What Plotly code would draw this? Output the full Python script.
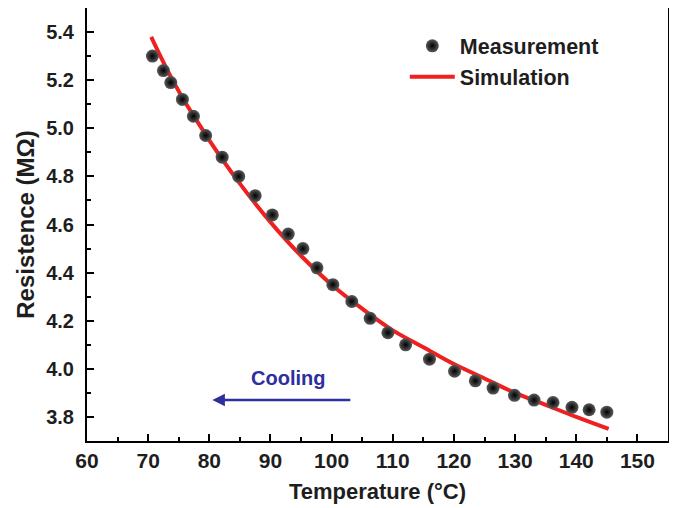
import plotly.graph_objects as go

# Measurement data (temperature in °C, resistance in MΩ)
meas_T = [70.7, 72.5, 73.7, 75.6, 77.4, 79.4, 82.1, 84.8, 87.5, 90.3, 92.9, 95.3,
          97.6, 100.2, 103.3, 106.3, 109.2, 112.1, 116.0, 120.1, 123.5, 126.4,
          129.9, 133.1, 136.2, 139.3, 142.1, 145.0]
meas_R = [5.30, 5.24, 5.19, 5.12, 5.05, 4.97, 4.88, 4.80, 4.72, 4.64, 4.56, 4.50,
          4.42, 4.35, 4.28, 4.21, 4.15, 4.10, 4.04, 3.99, 3.95, 3.92,
          3.89, 3.87, 3.86, 3.84, 3.83, 3.82]

# Simulation curve
sim_T = [70.5, 72, 74, 76, 78, 80, 85, 90, 95, 100, 105, 110, 115, 120, 125, 130, 135, 140, 145.3]
sim_R = [5.38, 5.30, 5.20, 5.11, 5.03, 4.95, 4.77, 4.61, 4.47, 4.35, 4.25, 4.16, 4.09,
         4.02, 3.96, 3.90, 3.85, 3.80, 3.75]

x_ticks = [60, 70, 80, 90, 100, 110, 120, 130, 140, 150]
y_ticks = [3.8, 4.0, 4.2, 4.4, 4.6, 4.8, 5.0, 5.2, 5.4]

FONT = "Liberation Sans, Arial, sans-serif"
TXT = "#1e1e1e"
BLUE = "#2e2e9e"

fig = go.Figure()
fig.add_trace(go.Scatter(
    x=sim_T, y=sim_R, mode="lines", name="Simulation",
    line=dict(color="#ee2020", width=4, shape="spline"),
))
fig.add_trace(go.Scatter(
    x=meas_T, y=meas_R, mode="markers", name="Measurement",
    marker=dict(size=13, color="#5a5a5a", line=dict(width=0),
                gradient=dict(type="radial", color="#000000")),
))

axis_common = dict(
    showline=True, linecolor="black", linewidth=2, mirror=True,
    ticks="inside", ticklen=7, tickwidth=2, tickcolor="black",
    showgrid=False, zeroline=False, automargin=False,
)

fig.update_layout(
    width=677, height=508,
    margin=dict(l=79, r=17, t=0, b=75),
    paper_bgcolor="white", plot_bgcolor="white",
    xaxis=dict(range=[60, 155], tickvals=x_ticks,
               tickfont=dict(family=FONT, size=21, color=TXT, weight="bold"),
               minor=dict(dtick=5, ticks="inside", ticklen=4, tickwidth=2, tickcolor="black"),
               title=dict(text="Temperature (°C)", standoff=12,
                          font=dict(family=FONT, size=22, color=TXT, weight="bold")),
               **axis_common),
    yaxis=dict(range=[3.7, 5.5], tickvals=y_ticks, tickformat=".1f",
               tickfont=dict(family=FONT, size=20, color=TXT, weight="bold"),
               ticklabelstandoff=7,
               minor=dict(dtick=0.1, ticks="inside", ticklen=4, tickwidth=2, tickcolor="black"),
               title=dict(text="Resistence (MΩ)", standoff=5,
                          font=dict(family=FONT, size=24, color=TXT, weight="bold")),
               **axis_common),
    legend=dict(x=0.547, y=0.96, xanchor="left", yanchor="top",
                traceorder="reversed", bgcolor="rgba(0,0,0,0)",
                font=dict(family=FONT, size=21.5, color=TXT, weight="bold"),
                itemwidth=45, tracegroupgap=0),
    showlegend=True,
)

fig.add_annotation(x=80.5, y=3.87, ax=103.3, ay=3.87, xref="x", yref="y", axref="x", ayref="y",
                   showarrow=True, arrowhead=2, arrowsize=1, arrowwidth=2.5, arrowcolor=BLUE, text="")
fig.add_annotation(x=92.9, y=3.96, xref="x", yref="y", text="Cooling", showarrow=False,
                   font=dict(family=FONT, size=20, color=BLUE, weight="bold"))

fig.write_html("out.html")
